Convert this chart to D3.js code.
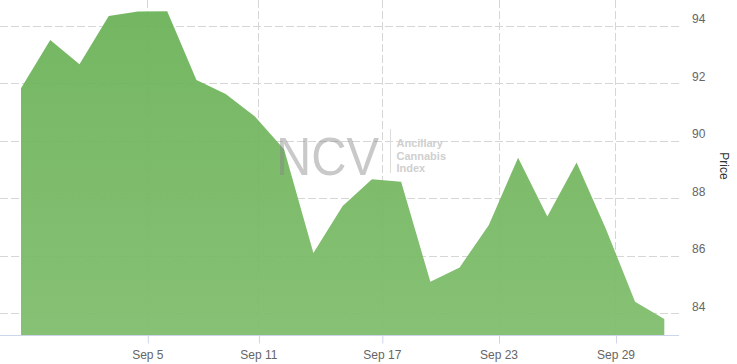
<!DOCTYPE html>
<html lang="en">
    <head>
        <title>Ancillary Cannabis Index</title>
        <style>
            body { margin: 0; background: #fff; }
            svg { display: block; font-family: "Liberation Sans", Arial, sans-serif; }
        </style>
    </head>
    <body>
        <script src="https://d3js.org/d3.v7.min.js"></script>
        <svg id="chart"></svg>
        <script>
            const width = 737;
            const height = 364;

            // one value per trading session, evenly spaced (ordinal axis)
            const prices = [91.83, 93.51, 92.67, 94.35, 94.50, 94.51, 92.12, 91.63, 90.85, 89.70,
                86.10, 87.74, 88.67, 88.58, 85.10, 85.60, 87.08, 89.42, 87.37, 89.25, 86.95, 84.41, 83.81];
            // dates fall between sessions, so ticks sit at fractional session index
            const tickLabels = ["Sep 5", "Sep 11", "Sep 17", "Sep 23", "Sep 29"];
            const tickIndex = [4.32, 8.12, 12.34, 16.33, 20.33];
            const yTicks = [84, 86, 88, 90, 92, 94];
            const watermarkLines = ["Ancillary", "Cannabis", "Index"];

            const plotLeft = 0, plotRight = 679, plotBottom = 335;

            const svg = d3.select("#chart")
                .attr("width", width)
                .attr("height", height)

            const x = d3.scaleLinear()
                .domain([0, prices.length - 1])
                .range([21, 664.3])

            const y = d3.scaleLinear()
                .domain([83.25, 94.904])
                .range([plotBottom, 0])

            const defs = svg.append("defs")
            const grad = defs.append("linearGradient")
                .attr("id", "areaGrad")
                .attr("x1", 0).attr("y1", 0).attr("x2", 0).attr("y2", 1)
            grad.append("stop").attr("offset", "0%").attr("stop-color", "#6bb258")
            grad.append("stop").attr("offset", "100%").attr("stop-color", "#7fbd6c")

            // grid
            svg.append("g")
                .selectAll("line")
                .data(yTicks)
                .enter()
                .append("line")
                .attr("x1", plotLeft)
                .attr("x2", plotRight)
                .attr("y1", d => Math.round(y(d)) + 0.5)
                .attr("y2", d => Math.round(y(d)) + 0.5)
                .attr("stroke", "#d6d6d6")
                .attr("stroke-dasharray", "8,3")

            svg.append("g")
                .selectAll("line")
                .data(tickIndex)
                .enter()
                .append("line")
                .attr("x1", d => Math.round(x(d)) + 0.5)
                .attr("x2", d => Math.round(x(d)) + 0.5)
                .attr("y1", 0)
                .attr("y2", plotBottom)
                .attr("stroke", "#d6d6d6")
                .attr("stroke-dasharray", "8,3")

            // area
            const area = d3.area()
                .x((d, i) => x(i))
                .y0(plotBottom)
                .y1(d => y(d))

            svg.append("path")
                .datum(prices)
                .attr("d", area)
                .attr("fill", "url(#areaGrad)")
                .attr("fill-opacity", 0.94)

            // watermark
            const wm = svg.append("g").attr("pointer-events", "none")
            wm.append("text")
                .attr("x", 276)
                .attr("y", 175)
                .attr("font-size", 53)
                .attr("textLength", 103)
                .attr("lengthAdjust", "spacingAndGlyphs")
                .attr("fill", "#888")
                .attr("fill-opacity", 0.45)
                .text("NCV")
            wm.append("line")
                .attr("x1", 390.5).attr("x2", 390.5)
                .attr("y1", 129).attr("y2", 173)
                .attr("stroke", "#ddd")
            wm.selectAll("text.sub")
                .data(watermarkLines)
                .enter()
                .append("text")
                .attr("class", "sub")
                .attr("x", 396.5)
                .attr("y", (d, i) => 147 + i * 12.7)
                .attr("font-size", 11)
                .attr("font-weight", "bold")
                .attr("fill", "#cfcfcf")
                .text(d => d)

            // x axis
            svg.append("line")
                .attr("x1", plotLeft)
                .attr("x2", plotRight)
                .attr("y1", plotBottom + 0.5)
                .attr("y2", plotBottom + 0.5)
                .attr("stroke", "#ccd6eb")

            const xAxis = svg.append("g")
                .attr("transform", `translate(0,${plotBottom + 0.5})`)
                .call(d3.axisBottom(x)
                    .tickValues(tickIndex)
                    .tickFormat((d, i) => tickLabels[i])
                    .tickSize(8))
            xAxis.select(".domain").remove()
            xAxis.selectAll(".tick line")
                .attr("stroke", "#ccd6eb")
                .attr("transform", "translate(0.5,0)")
            xAxis.selectAll(".tick text")
                .attr("y", 23)
                .attr("dy", 0)
                .attr("fill", "#666")
                .attr("font-size", 12)
                .attr("font-family", "\"Liberation Sans\", Arial, sans-serif")

            // y axis on the right
            const yAxis = svg.append("g")
                .attr("transform", "translate(692,0)")
                .call(d3.axisRight(y).tickValues(yTicks).tickSize(0))
            yAxis.select(".domain").remove()
            yAxis.selectAll(".tick text")
                .attr("x", 0)
                .attr("dy", -3)
                .attr("fill", "#666")
                .attr("font-size", 12)
                .attr("font-family", "\"Liberation Sans\", Arial, sans-serif")

            svg.append("text")
                .attr("transform", "translate(720,166) rotate(90)")
                .attr("text-anchor", "middle")
                .attr("font-size", 12)
                .attr("fill", "#333")
                .text("Price")
        </script>
    </body>
</html>
